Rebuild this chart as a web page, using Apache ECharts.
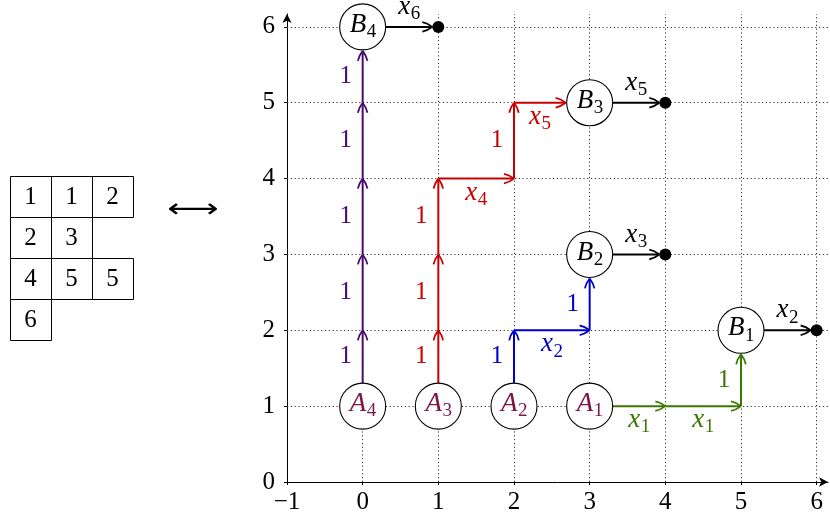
<!DOCTYPE html>
<html><head><meta charset="utf-8">
<script src="https://cdn.jsdelivr.net/npm/echarts@6/dist/echarts.min.js"></script>
<style>html,body{margin:0;padding:0;background:#fff}#c{width:830px;height:521px}</style>
</head><body><div id="c"></div>
<script>
// ---------- data ----------
const xTicks = [-1, 0, 1, 2, 3, 4, 5, 6];
const yTicks = [0, 1, 2, 3, 4, 5, 6];
const tableau = [[1, 1, 2], [2, 3], [4, 5, 5], [6]];
const sourceNodes = [[0, 1, 'A_4'], [1, 1, 'A_3'], [2, 1, 'A_2'], [3, 1, 'A_1']];
const sinkNodes = [[0, 6, 'B_4'], [3, 5, 'B_3'], [3, 3, 'B_2'], [5, 2, 'B_1']];
const endDots = [[1, 6], [4, 5], [4, 3], [6, 2]];
const pathPurple = [[0, 1], [0, 2], [0, 3], [0, 4], [0, 5], [0, 6]];
const weightsPurple = ['1', '1', '1', '1', '1'];
const pathRed = [[1, 1], [1, 2], [1, 3], [1, 4], [2, 4], [2, 5], [3, 5]];
const weightsRed = ['1', '1', '1', 'x_4', '1', 'x_5'];
const pathBlue = [[2, 1], [2, 2], [3, 2], [3, 3]];
const weightsBlue = ['1', 'x_2', '1'];
const pathGreen = [[3, 1], [4, 1], [5, 1], [5, 2]];
const weightsGreen = ['x_1', 'x_1', '1'];
const exitEdges = [[[0, 6], [1, 6], 'x_6'], [[3, 5], [4, 5], 'x_5'], [[3, 3], [4, 3], 'x_3'], [[5, 2], [6, 2], 'x_2']];

// ---------- styles ----------
const FONT = '"Liberation Serif"';
const FS = 25;      // digits
const LFS = 27;     // italic letters
const R = 23;
const DOT_R = 6;
const C = { purple: '#4a0a6c', red: '#c80000', blue: '#0000cc', green: '#3a7800', black: '#000000', node: '#7a1546' };

const paths = [
  { pts: pathPurple, w: weightsPurple, color: C.purple, side: 'below' },
  { pts: pathRed, w: weightsRed, color: C.red, side: 'below' },
  { pts: pathBlue, w: weightsBlue, color: C.blue, side: 'below' },
  { pts: pathGreen, w: weightsGreen, color: C.green, side: 'below' }
];
exitEdges.forEach(e => paths.push({ pts: [e[0], e[1]], w: [e[2]], color: C.black, side: 'above' }));

const segs = [];
paths.forEach(p => {
  for (let i = 0; i < p.pts.length - 1; i++) {
    segs.push({ a: p.pts[i], b: p.pts[i + 1], label: p.w[i], color: p.color, side: p.side });
  }
});
const allNodes = sourceNodes.map(n => ({ x: n[0], y: n[1], label: n[2], color: C.node }))
  .concat(sinkNodes.map(n => ({ x: n[0], y: n[1], label: n[2], color: C.black })));
function isNode(p) { return allNodes.some(n => n.x === p[0] && n.y === p[1]); }
function isDot(p) { return endDots.some(d => d[0] === p[0] && d[1] === p[1]); }

function mathText(str, cx, cy, color) {
  const parts = str.split('_');
  const b = parts[0], s = parts[1];
  const italic = /[A-Za-z]/.test(b);
  const size = italic ? LFS : FS;
  const bf = (italic ? 'italic ' : '') + size + 'px ' + FONT;
  if (!s) {
    return [{ type: 'text', x: cx, y: cy, style: { text: b, fill: color, font: bf, align: 'center', verticalAlign: 'middle', textAlign: 'center', textVerticalAlign: 'middle' } }];
  }
  const ss = Math.round(size * 0.72);
  const wb = size * (b === 'x' ? 0.44 : 0.62);
  const ws = ss * 0.5;
  const join = cx - (wb + ws) / 2 + wb;
  return [
    { type: 'text', x: join, y: cy, style: { text: b, fill: color, font: bf, align: 'right', verticalAlign: 'middle', textAlign: 'right', textVerticalAlign: 'middle' } },
    { type: 'text', x: join + 0.5, y: cy + size * 0.27, style: { text: s, fill: color, font: ss + 'px ' + FONT, align: 'left', verticalAlign: 'middle', textAlign: 'left', textVerticalAlign: 'middle' } }
  ];
}

function renderSeg(params, api) {
  const s = segs[params.dataIndex];
  let p1 = api.coord(s.a), p2 = api.coord(s.b);
  const dx = p2[0] - p1[0], dy = p2[1] - p1[1], len = Math.hypot(dx, dy);
  const ux = dx / len, uy = dy / len;
  if (isNode(s.a)) p1 = [p1[0] + ux * R, p1[1] + uy * R];
  if (isNode(s.b)) p2 = [p2[0] - ux * (R + 1), p2[1] - uy * (R + 1)];
  if (isDot(s.b)) p2 = [p2[0] - ux * DOT_R, p2[1] - uy * DOT_R];
  const nx = -uy, ny = ux;
  const L = 10, W = 4.8;
  const stroke = { stroke: s.color, lineWidth: 2, fill: null };
  const children = [
    { type: 'line', shape: { x1: p1[0], y1: p1[1], x2: p2[0] - ux * 1.5, y2: p2[1] - uy * 1.5 }, style: stroke }
  ];
  [1, -1].forEach(sg => {
    children.push({
      type: 'bezierCurve',
      shape: {
        x1: p2[0] - ux * L + sg * nx * W, y1: p2[1] - uy * L + sg * ny * W,
        x2: p2[0], y2: p2[1],
        cpx1: p2[0] - ux * L * 0.5 + sg * nx * W * 0.8, cpy1: p2[1] - uy * L * 0.5 + sg * ny * W * 0.8
      },
      style: { stroke: s.color, lineWidth: 1.8, fill: null }
    });
  });
  const mx = (p1[0] + p2[0]) / 2, my = (p1[1] + p2[1]) / 2;
  let lx, ly;
  if (Math.abs(ux) < 0.5) { lx = mx - 17; ly = my; }
  else if (s.side === 'below') { lx = mx; ly = my + 14; }
  else { lx = mx; ly = my - 20; }
  mathText(s.label, lx, ly, s.color).forEach(t => children.push(t));
  return { type: 'group', children: children };
}

function renderNode(params, api) {
  const n = allNodes[params.dataIndex];
  const p = api.coord([n.x, n.y]);
  const children = [
    { type: 'circle', shape: { cx: p[0], cy: p[1], r: R }, style: { fill: '#fff', stroke: '#000', lineWidth: 1.1 } }
  ];
  mathText(n.label, p[0], p[1] - 2, n.color).forEach(t => children.push(t));
  return { type: 'group', children: children };
}

// tableau graphic
const CELL = 41, TX = 10, TY = 176;
const graphics = [];
tableau.forEach((row, r) => row.forEach((v, c) => {
  graphics.push({ type: 'rect', left: TX + c * CELL, top: TY + r * CELL, shape: { width: CELL, height: CELL }, style: { fill: '#fff', stroke: '#000', lineWidth: 1 } });
  graphics.push({ type: 'text', x: TX + c * CELL + CELL / 2, y: TY + r * CELL + CELL / 2 + 1, style: { text: String(v), font: FS + 'px ' + FONT, fill: '#000', align: 'center', verticalAlign: 'middle', textAlign: 'center', textVerticalAlign: 'middle' } });
}));
graphics.push({ type: 'text', x: 193, y: 210, scaleX: 1.38, style: { text: '⟷', font: '26px "DejaVu Sans"', fill: '#000', align: 'center', verticalAlign: 'middle', textAlign: 'center', textVerticalAlign: 'middle' } });

const gridLines = xTicks.filter(v => v > -1).map(v => ({ xAxis: v }))
  .concat(yTicks.filter(v => v > 0).map(v => ({ yAxis: v })));

function fmt(v) {
  if (!xTicks.includes(v) && !yTicks.includes(v)) return '';
  return v < 0 ? '\u2212' + Math.abs(v) : String(v);
}

const chart = echarts.init(document.getElementById('c'), null, { renderer: 'canvas' });
chart.setOption({
  animation: false,
  backgroundColor: '#fff',
  grid: { left: 287, right: 2, top: 14, bottom: 39, containLabel: false },
  xAxis: {
    type: 'value', min: -1, max: 6.15, interval: 1,
    splitLine: { show: false },
    axisLine: { show: true, onZero: false, symbol: ['none', 'arrow'], symbolSize: [7, 9], lineStyle: { color: '#000', width: 1 } },
    axisTick: { show: true, length: 3, customValues: xTicks, lineStyle: { color: '#000' } },
    axisLabel: { customValues: xTicks, formatter: fmt, margin: 8, color: '#000', fontSize: FS, fontFamily: 'Liberation Serif' }
  },
  yAxis: {
    type: 'value', min: 0, max: 6.17, interval: 1,
    splitLine: { show: false },
    axisLine: { show: true, onZero: false, symbol: ['none', 'arrow'], symbolSize: [7, 9], lineStyle: { color: '#000', width: 1 } },
    axisTick: { show: true, length: 3, customValues: yTicks, lineStyle: { color: '#000' } },
    axisLabel: { customValues: yTicks, formatter: fmt, margin: 12, color: '#000', fontSize: FS, fontFamily: 'Liberation Serif' }
  },
  graphic: graphics,
  series: [
    {
      type: 'scatter', data: endDots, symbol: 'circle', symbolSize: 12, z: 5,
      itemStyle: { color: '#000', opacity: 1 }, silent: true,
      markLine: {
        silent: true, symbol: 'none', label: { show: false }, animation: false,
        lineStyle: { type: [1.2, 2.6], color: '#333', width: 1 },
        data: gridLines, z: 1
      }
    },
    {
      type: 'custom', renderItem: renderSeg, z: 3, silent: true,
      dimensions: ['x1', 'y1', 'x2', 'y2'], encode: { x: [0, 2], y: [1, 3] },
      data: segs.map(s => [s.a[0], s.a[1], s.b[0], s.b[1]])
    },
    {
      type: 'custom', renderItem: renderNode, z: 4, silent: true,
      data: allNodes.map(n => [n.x, n.y])
    }
  ]
});
</script></body></html>
